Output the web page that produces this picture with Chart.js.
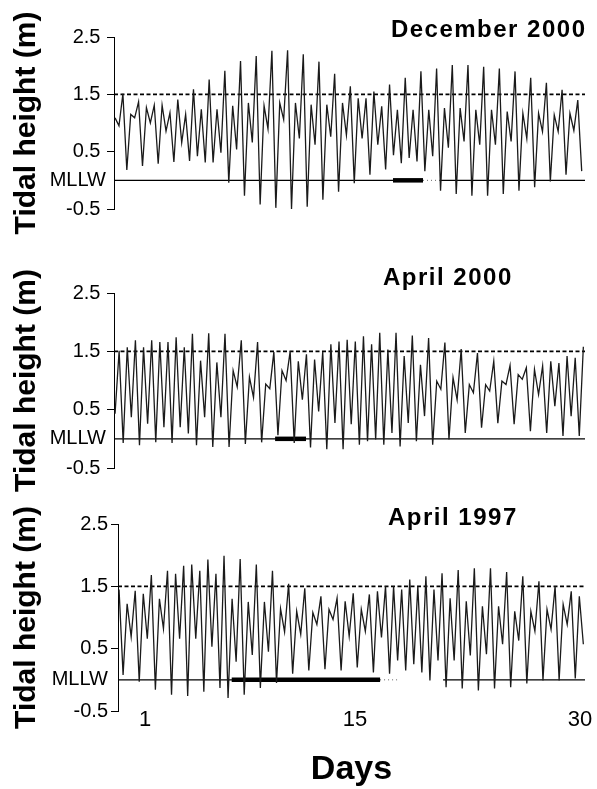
<!DOCTYPE html>
<html>
<head>
<meta charset="utf-8">
<script src="https://cdn.jsdelivr.net/npm/chart.js@4.4.1/dist/chart.umd.min.js"></script>
<style>
html,body{margin:0;padding:0;background:#fff;}
#wrap{position:relative;width:597px;height:789px;overflow:hidden;background:#fff;}
canvas{position:absolute;left:0;}
</style>
</head>
<body>
<div id="wrap">
<canvas id="c1" width="597" height="240" style="top:0px"></canvas>
<canvas id="c2" width="597" height="262" style="top:240px"></canvas>
<canvas id="c3" width="597" height="299" style="top:490px"></canvas>
</div>
<script>
// ---------------- DATA ----------------
const panelTitles = ['December 2000', 'April 2000', 'April 1997'];
const yTickValues = [-0.5, 0, 0.5, 1.5, 2.5];
const xTickValues = [1, 15, 30];
const yAxisTitle = 'Tidal height (m)';
const xAxisTitle = 'Days';
const mllwLabel = 'MLLW';
const thresholdHeight = 1.5;   // dashed reference level (m)
const mllwHeight = 0;          // mean lower low water

// successive high / low water heights (m)
const dec2000Heights = [1.09,
  0.95, 1.51, 0.18, 1.15, 1.09, 1.37, 0.25, 1.27, 1.00, 1.31,
  0.29, 1.31, 0.86, 1.18, 0.32, 1.41, 0.66, 1.15, 0.34, 1.59,
  0.42, 1.24, 0.31, 1.76, 0.31, 1.24, 0.48, 1.91, -0.04, 1.30,
  0.54, 2.08, -0.27, 1.35, 0.66, 2.17, -0.42, 1.30, 0.90, 2.26,
  -0.48, 1.35, 1.06, 2.27, -0.50, 1.35,
  0.73, 2.20, -0.46, 1.32, 0.62, 2.07, -0.34, 1.32, 0.76, 1.86,
  -0.20, 1.35, 0.79, 1.64, -0.05, 1.43, 0.73, 1.43, 0.10, 1.55,
  0.62, 1.29, 0.19, 1.67, 0.44, 1.23, 0.30, 1.79, 0.39, 1.23,
  0.33, 1.90, 0.16, 1.23, 0.42, 1.95, -0.18, 1.26, 0.57, 2.01,
  -0.24, 1.26, 0.68, 2.01, -0.27, 1.23, 0.62, 1.98, -0.27, 1.23,
  0.62, 1.95, -0.24, 1.20, 0.68, 1.90, -0.18, 1.17, 0.73, 1.79,
  -0.12, 1.17, 0.85, 1.70, -0.02, 1.14, 0.85, 1.58, 0.10, 1.17,
  0.87, 1.40, 0.16];
const apr2000Heights = [0.43,
  1.51, -0.07, 1.57, 0.37, 1.69, -0.11, 1.57, 0.26, 1.69, -0.06,
  1.66, 0.20, 1.66, -0.07, 1.74, 0.20, 1.57, 0.09, 1.80, -0.11,
  1.34, 0.37, 1.81, -0.14, 1.31, 0.37, 1.80, -0.14, 1.17, 0.89,
  1.69, -0.09, 1.06, 0.71, 1.66, -0.06, 0.94, 0.86, 1.49, 0.06,
  1.17, 1.00,
  1.50, -0.07, 1.33, 0.67, 1.45, -0.15, 1.36, 0.47, 1.49, -0.18,
  1.62, 0.27, 1.67, -0.18, 1.70, 0.25, 1.67, -0.10, 1.76, -0.04,
  1.62, -0.01, 1.82, -0.10, 1.53, 0.10, 1.82, -0.13, 1.42, 0.27,
  1.77, -0.04, 1.27, 0.39, 1.73, -0.10, 0.99, 0.85, 1.65, -0.01,
  1.05, 0.67, 1.54, 0.10, 0.93, 0.79, 1.47, 0.19, 0.93, 0.82,
  1.33, 0.27, 0.99, 0.93, 1.26, 0.25, 1.10, 1.02, 1.22, 0.13,
  1.19, 0.76, 1.25, 0.10, 1.33, 0.56, 1.30, 0.05, 1.42, 0.39,
  1.39, 0.05, 1.58];
const apr1997Heights = [1.45,
  0.08, 1.22, 0.69, 1.43, -0.03, 1.38, 0.66, 1.68, -0.16, 1.30,
  0.82, 1.75, -0.24, 1.70, 0.66, 1.83, -0.26, 1.85, 0.66, 1.75,
  -0.19, 1.93, 0.53, 1.70, -0.13, 1.99, -0.29, 1.30, 0.29, 1.94,
  -0.24, 1.25, 0.40, 1.85, -0.13, 1.25, 0.45, 1.75, -0.05, 1.14,
  0.77, 1.54,
  0.10, 1.10, 0.73, 1.47, 0.15, 1.08, 0.89, 1.34, 0.17, 1.13,
  0.97, 1.31, 0.15, 1.26, 0.70, 1.39, 0.20, 1.13, 0.78, 1.37,
  0.12, 1.42, 0.68, 1.50, 0.10, 1.50, 0.31, 1.45, 0.15, 1.61,
  0.25, 1.50, 0.12, 1.66, -0.01, 1.45, 0.31, 1.71, -0.12, 1.31,
  0.31, 1.76, -0.14, 1.26, 0.39, 1.79, -0.17, 1.18, 0.41, 1.79,
  -0.14, 1.18, 0.57, 1.73, -0.12, 1.10, 0.63, 1.66, -0.06, 1.10,
  0.78, 1.58, -0.01, 1.13, 0.81, 1.50, -0.01, 1.21, 0.89, 1.42,
  0.02, 1.34, 0.57];

// first / last record time (day of month)
const dec2000Span = [-1.0, 30.11];
const apr2000Span = [-1.0, 30.22];
const apr1997Span = [-0.73, 30.22];

// periods marked by the thick bar on MLLW (days)
const dec2000Bars = [[17.53, 19.53]];
const apr2000Bars = [[9.67, 11.73]];
const apr1997Bars = [[6.78, 16.67]];

// MLLW reference line: drawn solid / faint dotted segments (days)
const dec2000MllwSolid = [[-1.07, 19.53], [20.67, 30.33]];
const dec2000MllwDotted = [[19.53, 20.67]];
const apr2000MllwSolid = [[-1.07, 30.33]];
const apr2000MllwDotted = [];
const apr1997MllwSolid = [[-0.8, 16.67], [20.87, 30.33]];
const apr1997MllwDotted = [[16.67, 18.0]];

// ---------------- CHART ----------------
const FONT = "'Liberation Sans', Arial, Helvetica, sans-serif";
Chart.defaults.font.family = FONT;
Chart.defaults.color = '#000';
const X_MAX = 30.33;

function series(heights, span) {
  const n = heights.length, step = (span[1] - span[0]) / (n - 1);
  return heights.map((h, i) => ({x: span[0] + i * step, y: h}));
}
function segs(list, y) {
  const out = [];
  list.forEach(([a, b], k) => {
    if (k) out.push({x: a, y: null});
    out.push({x: a, y: y}, {x: b, y: y});
  });
  return out;
}

const panelTitlePlugin = {
  id: 'panelTitle',
  afterDraw(chart, args, opts) {
    const ctx = chart.ctx;
    ctx.save();
    ctx.font = 'bold ' + opts.size + 'px ' + FONT;
    if ('letterSpacing' in ctx) ctx.letterSpacing = opts.spacing + 'px';
    ctx.fillStyle = '#000';
    ctx.textAlign = opts.align;
    ctx.textBaseline = 'alphabetic';
    ctx.fillText(opts.text, opts.x, opts.y);
    if ('letterSpacing' in ctx) ctx.letterSpacing = '0px';
    ctx.restore();
  }
};

function makePanel(p) {
  const bottom = p.bottom;
  new Chart(document.getElementById(p.canvas), {
    type: 'line',
    data: {
      datasets: [
        {data: series(p.heights, p.span), borderColor: '#1a1a1a', borderWidth: 1.3,
         pointRadius: 0, tension: 0, clip: 6},
        {data: segs(p.bars, mllwHeight), borderColor: '#000', borderWidth: 4.5,
         pointRadius: 0, borderCapStyle: 'butt'},
        {data: segs([[p.xMin, X_MAX]], thresholdHeight), borderColor: '#000', borderWidth: 1.6,
         borderDash: [4, 2.5], pointRadius: 0},
        {data: segs(p.mllwSolid, mllwHeight), borderColor: '#000', borderWidth: 1.2, pointRadius: 0},
        {data: segs(p.mllwDotted, mllwHeight), borderColor: '#666', borderWidth: 1,
         borderDash: [1, 3], pointRadius: 0}
      ]
    },
    options: {
      responsive: false,
      animation: false,
      events: [],
      layout: {padding: {left: 0, right: 12, top: p.padTop, bottom: p.padBottom}},
      plugins: {
        legend: {display: false},
        tooltip: {enabled: false},
        panelTitle: p.title
      },
      scales: {
        x: {
          type: 'linear', min: p.xMin, max: X_MAX, display: bottom,
          afterBuildTicks: s => { s.ticks = xTickValues.map(v => ({value: v})); },
          ticks: {font: {size: 22, lineHeight: 0.82}, color: '#000', padding: 0,
                  maxRotation: 0, autoSkip: false, callback: v => String(v)},
          grid: {display: false, drawTicks: false},
          border: {display: false},
          title: {display: true, text: xAxisTitle, color: '#000',
                  font: {size: 34, weight: 'bold', lineHeight: 1}, padding: {top: 0, bottom: 2}},
          afterFit: s => { s.height = bottom ? 78 : 0; }
        },
        y: {
          type: 'linear', min: -0.5, max: 2.5,
          afterBuildTicks: s => { s.ticks = yTickValues.map(v => ({value: v})); },
          ticks: {font: {size: 20}, color: '#000', padding: p.tickPad,
                  callback: v => (v === 0 ? mllwLabel : v.toFixed(1) + p.numSuffix)},
          grid: {display: true, drawOnChartArea: false, drawTicks: true, tickLength: 7,
                 color: '#000', lineWidth: 1,
                 tickColor: c => (c.tick && c.tick.value === 0 ? 'rgba(0,0,0,0)' : '#000')},
          border: {display: true, color: '#000', width: 1},
          title: {display: true, text: yAxisTitle, color: '#000',
                  font: {size: 30, weight: 'bold', lineHeight: 1.2}, padding: {top: 9, bottom: 0}},
          afterFit: s => { s.width = p.axisLeft; }
        }
      }
    },
    plugins: [panelTitlePlugin]
  });
}

makePanel({canvas: 'c1', heights: dec2000Heights, span: dec2000Span, bars: dec2000Bars,
  mllwSolid: dec2000MllwSolid, mllwDotted: dec2000MllwDotted,
  xMin: -1.07, axisLeft: 114, padTop: 37, padBottom: 31, bottom: false, tickPad: 1, numSuffix: ' ',
  title: {text: panelTitles[0], x: 586.5, y: 37, align: 'right', size: 24, spacing: 1.5}});
makePanel({canvas: 'c2', heights: apr2000Heights, span: apr2000Span, bars: apr2000Bars,
  mllwSolid: apr2000MllwSolid, mllwDotted: apr2000MllwDotted,
  xMin: -1.07, axisLeft: 114, padTop: 53, padBottom: 34, bottom: false, tickPad: 1, numSuffix: ' ',
  title: {text: panelTitles[1], x: 383, y: 45, align: 'left', size: 24, spacing: 1.5}});
makePanel({canvas: 'c3', heights: apr1997Heights, span: apr1997Span, bars: apr1997Bars,
  mllwSolid: apr1997MllwSolid, mllwDotted: apr1997MllwDotted,
  xMin: -0.8, axisLeft: 118, padTop: 34, padBottom: 0, bottom: true, tickPad: 3, numSuffix: '',
  title: {text: panelTitles[2], x: 388, y: 35, align: 'left', size: 24, spacing: 1.5}});
</script>
</body>
</html>
